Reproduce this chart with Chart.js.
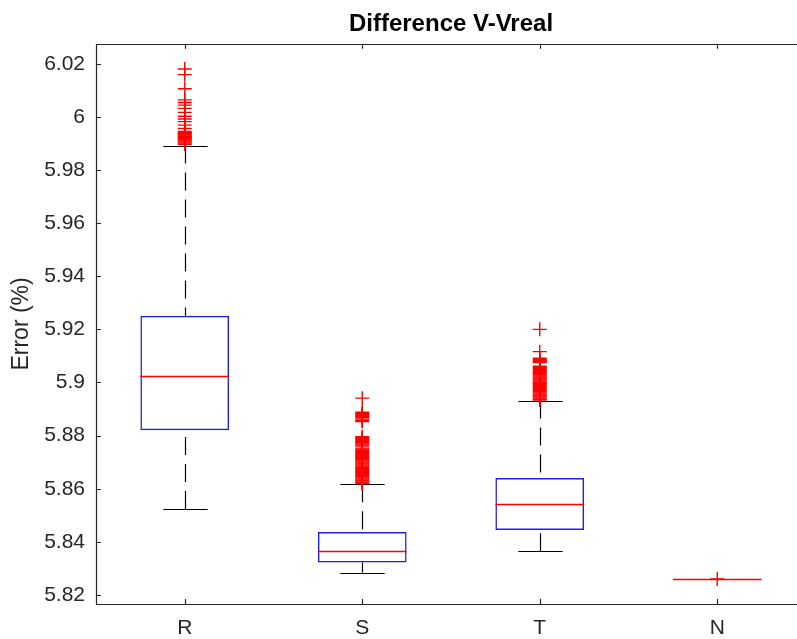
<!DOCTYPE html>
<html>
<head>
<meta charset="utf-8">
<title>Difference V-Vreal</title>
<script src="https://cdn.jsdelivr.net/npm/chart.js@4/dist/chart.umd.min.js"></script>
<style>
    html, body {
        margin: 0;
        padding: 0;
        background: #ffffff;
        overflow: hidden;
    }
    canvas {
        display: block;
    }
</style>
</head>
<body>
<canvas id="chart-ctx" width="815" height="639"></canvas>
<script>
// box statistics, one entry per category
const categories = ["R", "S", "T", "N"];
const q1 = [5.8820, 5.8322, 5.8445, 5.8260];
const median = [5.9026, 5.8364, 5.8543, 5.8260];
const q3 = [5.9251, 5.8437, 5.8640, 5.8260];
const whiskerLow = [5.8524, 5.8284, 5.8365, 5.8260];
const whiskerHigh = [5.9892, 5.8617, 5.8932, 5.8260];

// outliers ("+" markers)
const outliersR = [6.0180, 6.0159, 6.0106, 6.0064, 6.0054, 6.0044, 6.0032, 6.0017, 6.0002,
    5.9992, 5.9982, 5.9969, 5.9956, 5.9945, 5.9941, 5.9938, 5.9934, 5.9931, 5.9928,
    5.9925, 5.9922, 5.9919, 5.9916, 5.9913, 5.9909, 5.9905, 5.9901, 5.9897];
const outliersS = [5.8941, 5.8888, 5.8884, 5.8880, 5.8876, 5.8872, 5.8867, 5.8862, 5.8857,
    5.8853, 5.8796, 5.8792, 5.8788, 5.8785, 5.8781, 5.8777, 5.8773, 5.8769, 5.8765, 5.8761,
    5.8753, 5.8749, 5.8745, 5.8741, 5.8737, 5.8733, 5.8729, 5.8725, 5.8721, 5.8717, 5.8713,
    5.8709, 5.8705, 5.8701, 5.8697, 5.8693, 5.8689, 5.8685, 5.8681, 5.8677, 5.8673, 5.8669,
    5.8665, 5.8661, 5.8657, 5.8653, 5.8649, 5.8645, 5.8641, 5.8637, 5.8633, 5.8629, 5.8625,
    5.8622, 5.8619];
const outliersT = [5.9200, 5.9116, 5.9091, 5.9087, 5.9083, 5.9079, 5.9075, 5.9061, 5.9057,
    5.9053, 5.9049, 5.9045, 5.9041, 5.9037, 5.9033, 5.9029, 5.9025, 5.9021, 5.9017, 5.9013,
    5.9009, 5.9005, 5.9001, 5.8997, 5.8993, 5.8989, 5.8985, 5.8981, 5.8977, 5.8973, 5.8969,
    5.8965, 5.8961, 5.8957, 5.8953, 5.8949, 5.8945, 5.8941, 5.8937, 5.8934];
const outliersN = [5.8260];

const yTickValues = [5.82, 5.84, 5.86, 5.88, 5.90, 5.92, 5.94, 5.96, 5.98, 6.00, 6.02];
const yMin = 5.8166;
const yMax = 6.0275;

const axisColor = "#262626";
const fontFamily = "'Liberation Sans', Arial, Helvetica, sans-serif";

const outlierPoints = [outliersR, outliersS, outliersT, outliersN].flatMap((list, i) => {
    return list.map((v) => ({ x: categories[i], y: v }));
});

// whiskers, caps, medians and the axes frame, all placed with the chart scales
const boxplotLines = {
    id: "boxplotLines",
    afterLayout(chart) {
        // MATLAB centres the title over the axes, not over the whole figure
        if (chart.titleBlock) {
            chart.titleBlock.left = chart.chartArea.left;
            chart.titleBlock.right = chart.chartArea.right;
        }
    },
    beforeDatasetsDraw(chart) {
        const { ctx, scales: { x, y } } = chart;
        const slot = x.getPixelForValue(1) - x.getPixelForValue(0);
        ctx.save();
        ctx.strokeStyle = "#000000";
        ctx.lineWidth = 1.2;
        categories.forEach((c, i) => {
            const cx = Math.round(x.getPixelForValue(i)) + 0.5;
            if (whiskerHigh[i] === whiskerLow[i]) {
                return;
            }
            ctx.setLineDash([18, 9]);
            ctx.beginPath();
            ctx.moveTo(cx, y.getPixelForValue(whiskerHigh[i]));
            ctx.lineTo(cx, y.getPixelForValue(q3[i]));
            ctx.moveTo(cx, y.getPixelForValue(whiskerLow[i]));
            ctx.lineTo(cx, y.getPixelForValue(q1[i]));
            ctx.stroke();
            ctx.setLineDash([]);
            const half = slot * 0.125;
            ctx.beginPath();
            [whiskerHigh[i], whiskerLow[i]].forEach((v) => {
                const py = Math.round(y.getPixelForValue(v)) + 0.5;
                ctx.moveTo(cx - half, py);
                ctx.lineTo(cx + half, py);
            });
            ctx.stroke();
        });
        ctx.restore();
    },
    afterDatasetsDraw(chart) {
        const { ctx, scales: { x, y } } = chart;
        const slot = x.getPixelForValue(1) - x.getPixelForValue(0);
        ctx.save();
        ctx.strokeStyle = "#ff0000";
        ctx.lineWidth = 1.4;
        ctx.beginPath();
        categories.forEach((c, i) => {
            const cx = x.getPixelForValue(i);
            const py = Math.round(y.getPixelForValue(median[i])) + 0.5;
            ctx.moveTo(cx - slot * 0.25, py);
            ctx.lineTo(cx + slot * 0.25, py);
        });
        ctx.stroke();
        ctx.restore();
    },
    afterDraw(chart) {
        const { ctx, chartArea: { left, right, top, bottom }, scales: { x, y } } = chart;
        const tick = 5;
        ctx.save();
        ctx.strokeStyle = axisColor;
        ctx.lineWidth = 1.2;
        ctx.beginPath();
        ctx.rect(Math.round(left) + 0.5, Math.round(top) + 0.5, Math.round(right - left), Math.round(bottom - top));
        categories.forEach((c, i) => {
            const px = Math.round(x.getPixelForValue(i)) + 0.5;
            ctx.moveTo(px, bottom);
            ctx.lineTo(px, bottom - tick);
            ctx.moveTo(px, top);
            ctx.lineTo(px, top + tick);
        });
        yTickValues.forEach((v) => {
            const py = Math.round(y.getPixelForValue(v)) + 0.5;
            ctx.moveTo(left, py);
            ctx.lineTo(left + tick, py);
            ctx.moveTo(right, py);
            ctx.lineTo(right - tick, py);
        });
        ctx.stroke();
        ctx.restore();
    }
};

const ctx = document.getElementById("chart-ctx");

new Chart(ctx, {
    type: "bar",
    data: {
        labels: categories,
        datasets: [
            {
                label: "Box",
                data: categories.map((c, i) => [q1[i], q3[i]]),
                backgroundColor: "rgba(255,255,255,0)",
                borderColor: "#1f1fe8",
                borderWidth: 1.5,
                borderSkipped: false,
                categoryPercentage: 1.0,
                barPercentage: 0.5,
            },
            {
                type: "scatter",
                label: "Outliers",
                data: outlierPoints,
                pointStyle: "cross",
                pointRadius: 7,
                pointBorderWidth: 1.4,
                borderColor: "#ff0000",
                backgroundColor: "#ff0000",
            }
        ]
    },
    options: {
        responsive: false,
        animation: false,
        events: [],
        layout: {
            padding: { left: 0, right: 9, top: 0, bottom: 0 },
        },
        plugins: {
            legend: {
                display: false,
            },
            tooltip: {
                enabled: false,
            },
            title: {
                display: true,
                text: "Difference V-Vreal",
                color: "#000000",
                font: { family: fontFamily, size: 24, weight: "bold" },
                padding: { top: 10, bottom: 5 },
            },
        },
        scales: {
            x: {
                type: "category",
                offset: true,
                grid: { display: false, drawTicks: false },
                border: { display: false },
                ticks: {
                    color: axisColor,
                    font: { family: fontFamily, size: 21 },
                    padding: 12,
                    maxRotation: 0,
                },
                afterFit(scale) {
                    scale.height = 35;
                },
            },
            y: {
                type: "linear",
                min: yMin,
                max: yMax,
                grid: { display: false, drawTicks: false },
                border: { display: false },
                ticks: {
                    color: axisColor,
                    font: { family: fontFamily, size: 21 },
                    padding: 11,
                    callback: (v) => String(Number(v.toFixed(2))),
                },
                afterBuildTicks(scale) {
                    scale.ticks = yTickValues.map((v) => ({ value: v }));
                },
                afterFit(scale) {
                    scale.width = 96;
                },
                title: {
                    display: true,
                    text: "Error (%)",
                    color: axisColor,
                    font: { family: fontFamily, size: 23 },
                    padding: { top: 8, bottom: 0 },
                },
            },
        },
    },
    plugins: [boxplotLines],
});
</script>
</body>
</html>
